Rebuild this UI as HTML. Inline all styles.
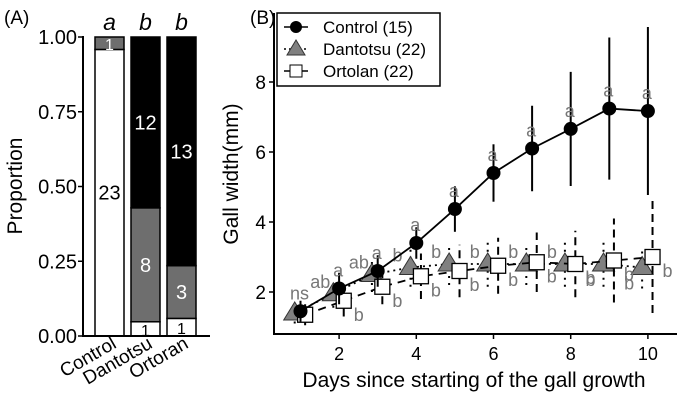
<!DOCTYPE html>
<html><head><meta charset="utf-8"><style>
body{margin:0;background:#fff;}
svg{display:block;font-family:"Liberation Sans",Arial,sans-serif;}
</style></head><body>
<svg id="fig" width="689" height="402" viewBox="0 0 689 402">
<g id="pa"></g>
<g id="pb"></g>
</svg>
<script>
const NS="http://www.w3.org/2000/svg";
// Panel A data
const catsA=["Control","Dantotsu","Ortoran"];
const whiteN=[23,1,1];
const greyN=[1,8,3];
const blackN=[0,12,13];
const sigA=["a","b","b"];
const yTicksA=[0,0.25,0.5,0.75,1];
const yTickLabA=["0.00","0.25","0.50","0.75","1.00"];
// Panel B data
const days=[1,2,3,4,5,6,7,8,9,10];
const ctrlMean=[1.45,2.1,2.6,3.4,4.37,5.4,6.1,6.66,7.24,7.17];
const ctrlSd=[0.3,0.45,0.45,0.45,0.65,0.82,1.22,1.63,2.03,2.4];
const danMean=[1.4,1.95,2.5,2.7,2.8,2.8,2.8,2.8,2.8,2.7];
const danSd=[0.3,0.4,0.5,0.55,0.6,0.65,0.6,0.65,0.65,0.6];
const ortMean=[1.35,1.75,2.15,2.45,2.6,2.75,2.85,2.8,2.9,3.0];
const ortSd=[0.3,0.45,0.5,0.65,0.75,0.8,0.85,0.95,1.2,1.6];
const ctrlLab=["ns","a","a","a","a","a","a","a","a","a"];
const danLab=["","ab","ab","b","b","b","b","b","b","b"];
const ortLab=["","b","b","b","b","b","b","b","b","b"];
const xTicksB=[2,4,6,8,10];
const yTicksB=[2,4,6,8];

function el(p,t,a,txt){const e=document.createElementNS(NS,t);for(const k in a)e.setAttribute(k,a[k]);if(txt!==undefined)e.textContent=txt;p.appendChild(e);return e;}

// ---- Panel A
const pa=document.getElementById('pa');
const yA=v=>336-v*299;
const barX=[95,131,167],barW=29;
let t=el(pa,'text',{x:4,y:24,'font-size':19},'(A)');

catsA.forEach((c,i)=>{
  const tot=whiteN[i]+greyN[i]+blackN[i];
  const segs=[[whiteN[i],'#fff','#000'],[greyN[i],'#6e6e6e','#fff'],[blackN[i],'#000','#fff']];
  let cum=0;
  segs.forEach((s,j)=>{
    if(!s[0])return;
    const y0=yA(cum/tot),y1=yA((cum+s[0])/tot);
    const r=el(pa,'rect',{x:barX[i],y:y1,width:barW,height:y0-y1,fill:s[1],stroke:'#000','stroke-width':1.5});
    
    const lab=el(pa,'text',{x:barX[i]+barW/2,y:(y0+y1)/2+7,'text-anchor':'middle','font-size':(y0-y1)<20?16:20,fill:s[2]},String(s[0]));
    
    cum+=s[0];
  });
  const sg=el(pa,'text',{x:barX[i]+barW/2,y:30,'text-anchor':'middle','font-size':23,'font-style':'italic'},sigA[i]);
  
  const cl=el(pa,'text',{x:barX[i]+barW/2+8,y:347,'text-anchor':'end','font-size':19,transform:`rotate(-30 ${barX[i]+barW/2+8} 347)`},c);
  
});
el(pa,'line',{x1:83,y1:36,x2:83,y2:337,stroke:'#000','stroke-width':2});
el(pa,'line',{x1:82,y1:336,x2:210,y2:336,stroke:'#000','stroke-width':2});
yTicksA.forEach((v,i)=>{
  el(pa,'line',{x1:78,x2:83,y1:yA(v),y2:yA(v),stroke:'#000','stroke-width':1.5});
  const tl=el(pa,'text',{x:77,y:yA(v)+7,'text-anchor':'end','font-size':20},yTickLabA[i]);
  
});
t=el(pa,'text',{x:22,y:186,'text-anchor':'middle','font-size':21,transform:'rotate(-90 22 186)'},'Proportion');


// ---- Panel B
const pb=document.getElementById('pb');
const xB=d=>300.5+(d-1)*38.6;
const yB=v=>292-(v-2)*35;
t=el(pb,'text',{x:250,y:24,'font-size':19},'(B)');

el(pb,'line',{x1:274,y1:13,x2:274,y2:335,stroke:'#000','stroke-width':2});
el(pb,'line',{x1:273,y1:334,x2:677,y2:334,stroke:'#000','stroke-width':2});
xTicksB.forEach(d=>{
  el(pb,'line',{x1:xB(d),x2:xB(d),y1:334,y2:339,stroke:'#000','stroke-width':1.5});
  const tl=el(pb,'text',{x:xB(d),y:360,'text-anchor':'middle','font-size':18},String(d));
  
});
yTicksB.forEach(v=>{
  el(pb,'line',{x1:269,x2:274,y1:yB(v),y2:yB(v),stroke:'#000','stroke-width':1.5});
  const tl=el(pb,'text',{x:266,y:yB(v)+7,'text-anchor':'end','font-size':19},String(v));
  
});
t=el(pb,'text',{x:474,y:387,'text-anchor':'middle','font-size':21},'Days since starting of the gall growth');

t=el(pb,'text',{x:238,y:174,'text-anchor':'middle','font-size':21,transform:'rotate(-90 238 174)'},'Gall width(mm)');


function series(mean,sd,off,dash,ebDash,marker,labs,labDx,labDy,name){
  const g=el(pb,'g',{});
  
  days.forEach((d,i)=>{
    const x=xB(d+off);
    el(g,'line',{x1:x,x2:x,y1:yB(mean[i]-sd[i]),y2:yB(mean[i]+sd[i]),stroke:'#000','stroke-width':2,'stroke-dasharray':ebDash});
  });
  const pts=days.map((d,i)=>xB(d+off)+','+yB(mean[i])).join(' ');
  el(g,'polyline',{points:pts,fill:'none',stroke:'#000','stroke-width':1.8,'stroke-dasharray':dash});
  days.forEach((d,i)=>{
    const x=xB(d+off),y=yB(mean[i]);
    let m;
    if(marker==='c')m=el(g,'circle',{cx:x,cy:y,r:7,fill:'#000'});
    else if(marker==='t')m=el(g,'polygon',{points:`${x},${y-11} ${x-11},${y+7} ${x+11},${y+7}`,fill:'#808080',stroke:'#333','stroke-width':1});
    else m=el(g,'rect',{x:x-7.5,y:y-7.5,width:15,height:15,fill:'#fff',stroke:'#000','stroke-width':1.3});
    
    if(labs[i]){
      let lx=x+labDx,ly=y+labDy;
      if(marker==='t'&&i>=8){ly=y+22;}
      const lt=el(g,'text',{x:lx,y:ly,'text-anchor':'middle','font-size':18,fill:'#777'},labs[i]);
      
    }
  });
}
series(danMean,danSd,-0.15,'2,4','2,5','t',danLab,-13,-6,'dantotsu');
series(ortMean,ortSd,0.12,'8,6','8,5','s',ortLab,15,20,'ortolan');
series(ctrlMean,ctrlSd,0,'','','c',ctrlLab,-1,-12,'control');

// legend
const lg=el(pb,'g',{});

el(lg,'rect',{x:277,y:13,width:163,height:73,fill:'#fff',stroke:'#000','stroke-width':1.5});
const lgNames=["Control (15)","Dantotsu (22)","Ortolan (22)"];
lgNames.forEach((n,i)=>{
  const y=27+i*22;
  el(lg,'line',{x1:284,x2:308,y1:y,y2:y,stroke:'#000','stroke-width':1.5,'stroke-dasharray':i===1?'2,3':''});
  if(i===0)el(lg,'circle',{cx:296,cy:y,r:6,fill:'#000'});
  else if(i===1)el(lg,'polygon',{points:`296,${y-9} 287,${y+6} 305,${y+6}`,fill:'#808080',stroke:'#333'});
  else el(lg,'rect',{x:290,y:y-6,width:12,height:12,fill:'#fff',stroke:'#000'});
  const lt=el(lg,'text',{x:323,y:y+6,'font-size':17},n);
  
});
</script>
</body></html>
